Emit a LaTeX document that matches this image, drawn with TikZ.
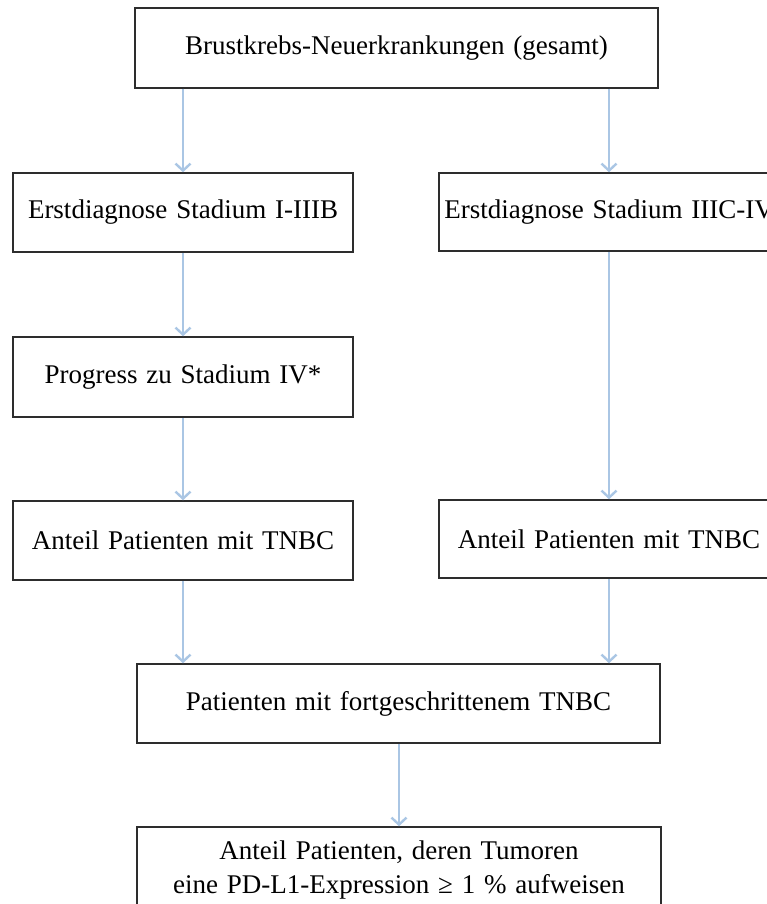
\documentclass[tikz,border=0pt]{standalone}
\usepackage{fontspec}
\setmainfont{Liberation Serif}[WordSpace=1.3]
\usetikzlibrary{arrows.meta}
\definecolor{boxline}{RGB}{45,45,45}
\definecolor{arrowblue}{RGB}{170,198,228}
\tikzset{
  box/.style={draw=boxline, line width=1.5pt, rectangle, fill=white, align=center,
    inner sep=0pt, font=\fontsize{27}{34}\selectfont},
  flow/.style={draw=arrowblue, line width=2.4pt,
    -{Straight Barb[length=7pt,width=15pt,line width=2.4pt]}}
}
\begin{document}
\begin{tikzpicture}[x=1pt,y=-1pt]
\useasboundingbox (0,0) rectangle (767,904);
\clip (0,0) rectangle (767,904);
\node[box, minimum width=523pt, minimum height=80pt] (A) at (396.5,48) {Brustkrebs-Neuerkrankungen (gesamt)};
\node[box, minimum width=340pt, minimum height=79pt] (B) at (183,212.5) {Erstdiagnose Stadium I-IIIB};
\node[box, minimum width=340pt, minimum height=78pt] (C) at (609,212) {Erstdiagnose Stadium IIIC-IV};
\node[box, minimum width=340pt, minimum height=80pt] (D) at (183,377) {Progress zu Stadium IV*};
\node[box, minimum width=340pt, minimum height=79pt] (E) at (183,540.5) {Anteil Patienten mit TNBC};
\node[box, minimum width=340pt, minimum height=78pt] (F) at (609,539) {Anteil Patienten mit TNBC};
\node[box, minimum width=523pt, minimum height=79pt] (G) at (398.5,703.5) {Patienten mit fortgeschrittenem TNBC};
\node[box, minimum width=524pt, minimum height=86pt] (H) at (399,870) {Anteil Patienten, deren Tumoren\\eine PD-L1-Expression ≥ 1 \% aufweisen};
\draw[flow] (A.south -| B.north) -- (B.north);
\draw[flow] (A.south -| C.north) -- (C.north);
\draw[flow] (B.south) -- (D.north);
\draw[flow] (D.south) -- (E.north);
\draw[flow] (C.south) -- (F.north);
\draw[flow] (E.south) -- (G.north -| E.south);
\draw[flow] (F.south) -- (G.north -| F.south);
\draw[flow] (G.south -| H.north) -- (H.north);
\end{tikzpicture}
\end{document}
